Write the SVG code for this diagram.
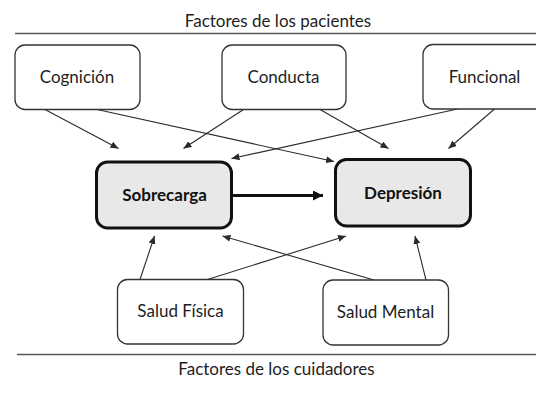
<svg xmlns="http://www.w3.org/2000/svg" width="536" height="393" viewBox="0 0 536 393">
<defs>
<style>
.bg{fill:#ffffff}
.sep{stroke:#555;stroke-width:1.5;fill:none}
.title{font-family:Lato,"Open Sans","Liberation Sans",sans-serif;font-size:17px;fill:#1e1e1e;text-anchor:middle}
.box{fill:#ffffff;stroke:#333;stroke-width:1.3}
.main{fill:#e8e8e8;stroke:#111;stroke-width:3}
.lbl{font-family:Lato,"Open Sans","Liberation Sans",sans-serif;font-size:17px;fill:#1e1e1e;text-anchor:middle}
.blbl{font-family:Lato,"Open Sans","Liberation Sans",sans-serif;font-size:17px;font-weight:bold;fill:#111;text-anchor:middle}
.edge{stroke:#2a2a2a;stroke-width:1.1;fill:none;marker-end:url(#ah)}
.thick{stroke:#111;stroke-width:3;fill:none;marker-end:url(#ahb)}
</style>
<marker id="ah" markerUnits="userSpaceOnUse" markerWidth="9" markerHeight="7" refX="8" refY="3.5" orient="auto">
<path d="M0,0 L8,3.5 L0,7 Z" fill="#2a2a2a"/>
</marker>
<marker id="ahb" markerUnits="userSpaceOnUse" markerWidth="11" markerHeight="10" refX="10" refY="5" orient="auto">
<path d="M0,0 L10,5 L0,10 Z" fill="#111"/>
</marker>
</defs>
<rect class="bg" x="0" y="0" width="536" height="393"/>

<g id="header">
<text class="title" x="278" y="27">Factores de los pacientes</text>
<line class="sep" x1="15" y1="33.5" x2="536" y2="33.5"/>
</g>
<g id="footer">
<line class="sep" x1="17" y1="354.5" x2="536" y2="354.5"/>
<text class="title" x="276.5" y="374.5">Factores de los cuidadores</text>
</g>

<g id="edges">
<line class="edge" x1="45" y1="109.5" x2="118.5" y2="148.5"/>
<line class="edge" x1="97" y1="109.5" x2="334" y2="161.5"/>
<line class="edge" x1="243.5" y1="109.5" x2="183.5" y2="148.5"/>
<line class="edge" x1="320" y1="109.5" x2="388.5" y2="148.5"/>
<line class="edge" x1="457.5" y1="109" x2="231.5" y2="158.5"/>
<line class="edge" x1="494.5" y1="109" x2="448.5" y2="148.5"/>
<line class="edge" x1="140" y1="279.5" x2="154.5" y2="236"/>
<line class="edge" x1="207.5" y1="279.5" x2="346" y2="236"/>
<line class="edge" x1="374" y1="280" x2="222.5" y2="236"/>
<line class="edge" x1="426" y1="280" x2="415" y2="236"/>
<line class="thick" x1="233" y1="195.5" x2="323" y2="195.5"/>
</g>

<g id="cognicion">
<rect class="box" x="15" y="45" width="125" height="64.5" rx="10"/>
<text class="lbl" x="77" y="83">Cognición</text>
</g>
<g id="conducta">
<rect class="box" x="222" y="45" width="124" height="64.5" rx="10"/>
<text class="lbl" x="283.5" y="83">Conducta</text>
</g>
<g id="funcional">
<rect class="box" x="423" y="44.5" width="130" height="64.5" rx="10"/>
<text class="lbl" x="484.5" y="83">Funcional</text>
</g>
<g id="sobrecarga">
<rect class="main" x="96.5" y="162" width="135" height="66" rx="11"/>
<text class="blbl" x="164.5" y="201">Sobrecarga</text>
</g>
<g id="depresion">
<rect class="main" x="335.5" y="159.5" width="135" height="66.5" rx="11"/>
<text class="blbl" x="403" y="198.5">Depresión</text>
</g>
<g id="saludfisica">
<rect class="box" x="117.5" y="279.5" width="126" height="64.5" rx="10"/>
<text class="lbl" x="180.5" y="316.5">Salud Física</text>
</g>
<g id="saludmental">
<rect class="box" x="323" y="280" width="125.5" height="65" rx="10"/>
<text class="lbl" x="385.5" y="317.5">Salud Mental</text>
</g>
</svg>
